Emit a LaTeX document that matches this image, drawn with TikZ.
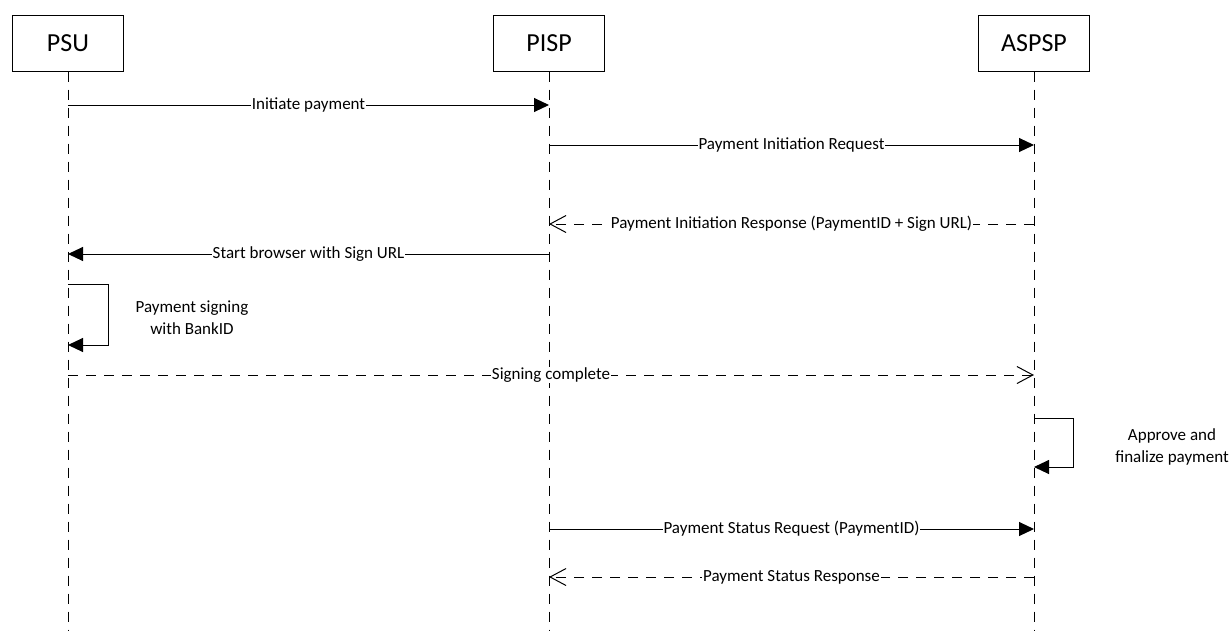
\documentclass[tikz,border=0pt]{standalone}
\usepackage{fontspec}
\setmainfont{Carlito}
\usetikzlibrary{positioning, arrows.meta}

\begin{document}
\begin{tikzpicture}[x=1pt, y=-1pt,
    actor/.style = {draw, line width=1pt, minimum width=111pt, minimum height=56pt, font=\fontsize{26}{30}\selectfont},
    life/.style = {line width=1pt, dash pattern=on 10pt off 8pt},
    call/.style = {line width=1pt, -{Triangle[length=15pt, width=14pt]}},
    reply/.style = {line width=1pt, dash pattern=on 10pt off 8pt, -{Straight Barb[length=16pt, width=17pt]}},
    msg/.style = {midway, fill=white, inner xsep=1pt, inner ysep=1pt, font=\fontsize{17}{20}\selectfont},
    note/.style = {align=center, font=\fontsize{17}{22}\selectfont}]

        \useasboundingbox (0,0) rectangle (1231,630);

        \node[actor] (psu) at (68,43) {PSU};
        \node[actor] (pisp) [right=369pt of psu] {PISP};
        \node[actor] (aspsp) [right=373pt of pisp] {ASPSP};

        \coordinate (psuend) at (psu |- 0,630);
        \coordinate (pispend) at (pisp |- 0,630);
        \coordinate (aspspend) at (aspsp |- 0,630);
        \draw[life] (psu) -- (psuend);
        \draw[life] (pisp) -- (pispend);
        \draw[life] (aspsp) -- (aspspend);

        % message rows on the lifelines
        \coordinate (psu1) at (psu |- 0,105);
        \coordinate (pisp1) at (pisp |- 0,105);
        \coordinate (pisp2) at (pisp |- 0,145);
        \coordinate (aspsp2) at (aspsp |- 0,145);
        \coordinate (aspsp3) at (aspsp |- 0,224);
        \coordinate (pisp3) at (pisp |- 0,224);
        \coordinate (pisp4) at (pisp |- 0,254);
        \coordinate (psu4) at (psu |- 0,254);
        \coordinate (psu5a) at (psu |- 0,284);
        \coordinate (psu5b) at (psu |- 0,345);
        \coordinate (psu6) at (psu |- 0,375);
        \coordinate (aspsp6) at (aspsp |- 0,375);
        \coordinate (aspsp7a) at (aspsp |- 0,418);
        \coordinate (aspsp7b) at (aspsp |- 0,467);
        \coordinate (pisp8) at (pisp |- 0,529);
        \coordinate (aspsp8) at (aspsp |- 0,529);
        \coordinate (aspsp9) at (aspsp |- 0,577);
        \coordinate (pisp9) at (pisp |- 0,577);

        \draw[call] (psu1) -- (pisp1) node [msg] {Initiate payment};
        \draw[call] (pisp2) -- (aspsp2) node [msg] {Payment Initiation Request};
        \draw[reply] (aspsp3) -- (pisp3) node [msg] {Payment Initiation Response (PaymentID + Sign URL)};
        \draw[call] (pisp4) -- (psu4) node [msg] {Start browser with Sign URL};
        \draw[call] (psu5a) -- ++(40,0) |- (psu5b);
        \node[note] (signing) at (192,318) {Payment signing\\with BankID};
        \draw[reply] (psu6) -- (aspsp6) node [msg] {Signing complete};
        \draw[call] (aspsp7a) -- ++(39,0) |- (aspsp7b);
        \node[note] (approve) at (1172,447) {Approve and\\finalize payment};
        \draw[call] (pisp8) -- (aspsp8) node [msg] {Payment Status Request (PaymentID)};
        \draw[reply] (aspsp9) -- (pisp9) node [msg] {Payment Status Response};
    \end{tikzpicture}
\end{document}
